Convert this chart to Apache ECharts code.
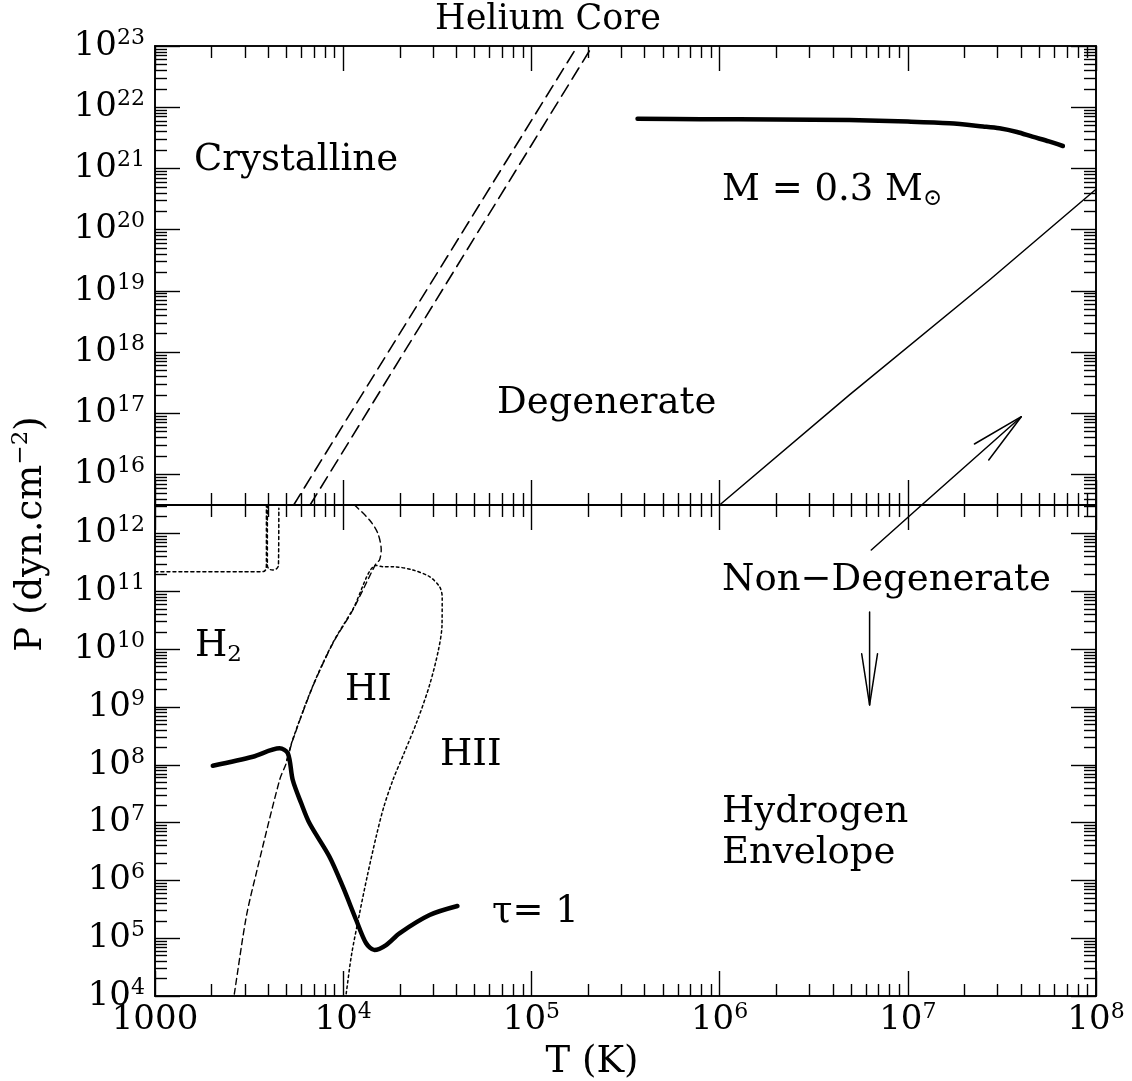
<!DOCTYPE html>
<html>
<head>
<meta charset="utf-8">
<script src="https://cdn.jsdelivr.net/npm/echarts@6/dist/echarts.min.js"></script>
<style>
  html, body { margin: 0; padding: 0; background: #fff; }
  #chart { width: 1132px; height: 1081px; }
</style>
</head>
<body>
<div id="chart"></div>
<script>
// All curve points are [log10 T (K), log10 P (dyn cm^-2)].

// Axis decades
const tDecades = [3, 4, 5, 6, 7, 8];
const coreDecades = [16, 17, 18, 19, 20, 21, 22, 23];
const envDecades = [4, 5, 6, 7, 8, 9, 10, 11, 12];
const tRange = [3, 8];
const coreRange = [15.5, 23];
const envRange = [4, 12.495];

// Helium core panel
const crystalA = [[3.737, 15.5], [5.245, 23]];
const crystalB = [[3.824, 15.5], [5.324, 23]];
const coreProfile = [[5.564, 21.81], [5.9, 21.805], [6.3, 21.8], [6.69, 21.79], [7.0, 21.765],
  [7.221, 21.737], [7.4, 21.685], [7.487, 21.655], [7.58, 21.595], [7.662, 21.518],
  [7.75, 21.44], [7.824, 21.366]];
const degeneracyLine = [[6.0, 15.5], [6.69, 17.3], [7.434, 19.176], [8.0, 20.66]];
const arrowUpShaft = [[7.074, 15.5], [7.603, 16.943]];
const arrowUpHead = [[7.354, 16.497], [7.603, 16.943], [7.43, 16.235]];

// Hydrogen envelope panel
const h2Edge = [[3.0, 11.34], [3.55, 11.34], [3.578, 11.345], [3.59, 11.39], [3.592, 11.5], [3.592, 12.495]];
const h2Loop = [[3.597, 12.495], [3.597, 11.45], [3.605, 11.39], [3.625, 11.37], [3.645, 11.39],
  [3.656, 11.45], [3.658, 12.44]];
const h2Boundary = [[4.06, 12.495], [4.14, 12.235], [4.184, 12.005], [4.202, 11.716], [4.193, 11.543],
  [4.175, 11.486], [4.051, 10.678], [3.945, 10.102], [3.838, 9.351], [3.732, 8.429], [3.697, 8.026],
  [3.662, 7.737], [3.538, 6.123], [3.485, 5.372], [3.422, 4.047], [3.42, 4.0]];
const hiiBoundary = [[3.70, 8.08], [3.732, 8.44], [3.838, 9.36], [3.945, 10.11], [4.051, 10.69],
  [4.175, 11.45], [4.21, 11.427], [4.264, 11.427], [4.37, 11.37], [4.459, 11.254], [4.512, 11.081],
  [4.526, 10.908], [4.525, 10.419], [4.506, 9.986], [4.459, 9.381], [4.395, 8.775], [4.326, 8.221],
  [4.264, 7.737], [4.214, 7.253], [4.175, 6.756], [4.129, 6.093], [4.087, 5.431], [4.044, 4.709],
  [4.016, 4.047], [4.012, 4.0]];
const tauOne = [[3.307, 7.984], [3.52, 8.14], [3.662, 8.285], [3.706, 8.199], [3.732, 7.737],
  [3.777, 7.334], [3.821, 6.988], [3.927, 6.41], [3.998, 5.891], [4.069, 5.315], [4.122, 4.912],
  [4.166, 4.796], [4.228, 4.882], [4.299, 5.085], [4.459, 5.401], [4.607, 5.557]];
const arrowUpTail = [[6.806, 11.716], [7.074, 12.495]];
const arrowDownShaft = [[6.797, 10.644], [6.797, 9.035]];
const arrowDownHead = [[6.755, 9.92], [6.797, 9.035], [6.839, 9.92]];

const FONT = "'DejaVu Serif', 'Liberation Serif', serif";
const INK = '#000';

function minorTicks(lo, hi) {
  const out = [];
  for (let n = Math.floor(lo); n < hi; n++) {
    for (let k = 2; k <= 9; k++) {
      const v = n + Math.log10(k);
      if (v > lo + 1e-6 && v < hi - 1e-6) out.push(v);
    }
  }
  return out;
}

const labelRich = {
  b: { fontFamily: FONT, fontSize: 34, color: INK, lineHeight: 38 },
  s: { fontFamily: FONT, fontSize: 22, color: INK, lineHeight: 23, verticalAlign: 'top' }
};

function makeAxis(gridIndex, range, position, ticks, len, labels) {
  const ax = {
    type: 'value', gridIndex, position, min: range[0], max: range[1], offset: 0,
    axisLine: { show: true, onZero: false, lineStyle: { color: INK, width: 1.6 } },
    axisTick: { show: true, inside: true, length: len, customValues: ticks,
      lineStyle: { color: INK, width: 1.4 } },
    axisLabel: { show: false },
    splitLine: { show: false }
  };
  if (labels) ax.axisLabel = labels;
  return ax;
}

function xLabels() {
  return { show: true, customValues: tDecades, margin: 5, rich: labelRich,
    formatter: v => v === 3 ? '{b|1000}' : '{b|10}{s|' + Math.round(v) + '}' };
}
function yLabels(vals) {
  return { show: true, customValues: vals, margin: 10, rich: labelRich,
    formatter: v => '{b|10}{s|' + Math.round(v) + '}' };
}

const tMinor = minorTicks(tRange[0], tRange[1]);
const xAxes = [];
const yAxes = [];
[[0, null], [1, xLabels()]].forEach(([g, lab]) => {
  xAxes.push(makeAxis(g, tRange, 'bottom', tDecades, 25, lab));
  xAxes.push(makeAxis(g, tRange, 'bottom', tMinor, 12));
  xAxes.push(makeAxis(g, tRange, 'top', tDecades, 25));
  xAxes.push(makeAxis(g, tRange, 'top', tMinor, 12));
});
[[0, coreRange, coreDecades], [1, envRange, envDecades]].forEach(([g, r, dec]) => {
  const minor = minorTicks(r[0], r[1]);
  yAxes.push(makeAxis(g, r, 'left', dec, 25, yLabels(dec)));
  yAxes.push(makeAxis(g, r, 'left', minor, 12));
  yAxes.push(makeAxis(g, r, 'right', dec, 25));
  yAxes.push(makeAxis(g, r, 'right', minor, 12));
});

function line(name, data, panel, width, dash, smooth) {
  return {
    name, type: 'line', data, xAxisIndex: panel * 4, yAxisIndex: panel * 4,
    symbol: 'none', smooth: smooth || false, silent: true, clip: true,
    lineStyle: { color: INK, width, type: dash || 'solid', cap: 'round', join: 'round' }
  };
}

const series = [
  line('crystalA', crystalA, 0, 1.6, [13, 7]),
  line('crystalB', crystalB, 0, 1.6, [13, 7]),
  line('coreProfile', coreProfile, 0, 4.5, null, 0.3),
  line('degeneracy', degeneracyLine, 0, 1.5),
  line('arrowUpShaft', arrowUpShaft, 0, 1.5),
  line('arrowUpHead', arrowUpHead, 0, 1.5),
  line('h2Edge', h2Edge, 1, 1.5, [3, 3], 0.3),
  line('h2Loop', h2Loop, 1, 1.5, [3, 3], 0.3),
  line('h2Boundary', h2Boundary, 1, 1.4, [6, 4], 0.3),
  line('hiiBoundary', hiiBoundary, 1, 1.5, [2.5, 3], 0.3),
  line('tauOne', tauOne, 1, 4.5, null, 0.3),
  line('arrowUpTail', arrowUpTail, 1, 1.5),
  line('arrowDownShaft', arrowDownShaft, 1, 1.5),
  line('arrowDownHead', arrowDownHead, 1, 1.5)
];

const SIZE = 37;
function txt(x, y, text, align, rich, extra) {
  return Object.assign({
    type: 'text', x, y, silent: true,
    style: { text, fill: INK, fontFamily: FONT, fontSize: SIZE,
      align: align || 'left', verticalAlign: 'middle', rich }
  }, extra || {});
}

const big = { fontFamily: FONT, fontSize: SIZE, color: INK, lineHeight: 42 };
const sub = { fontFamily: FONT, fontSize: 23, color: INK, lineHeight: 22, verticalAlign: 'bottom' };
const sup = { fontFamily: FONT, fontSize: 23, color: INK, lineHeight: 22, verticalAlign: 'top' };

const graphics = [
  txt(548, 20, 'Helium Core', 'center', null, { style: { text: 'Helium Core', fill: INK,
    fontFamily: FONT, fontSize: 35, align: 'center', verticalAlign: 'middle' } }),
  txt(194, 160, 'Crystalline'),
  txt(722, 190, '{a|M = 0.3 M}{b|⊙}', 'left', { a: big, b: sub }),
  txt(497, 403, 'Degenerate'),
  txt(722, 580, 'Non\u2212Degenerate'),
  txt(195, 646, '{a|H}{b|2}', 'left', { a: big, b: sub }),
  txt(345, 690, 'HI'),
  txt(440, 755, 'HII'),
  txt(722, 812, 'Hydrogen'),
  txt(722, 853, 'Envelope'),
  txt(492, 912, 'τ= 1'),
  txt(31, 534, '{a|P (dyn.cm}{b|\u22122}{a|)}', 'center', { a: big, b: sup }, { rotation: Math.PI / 2 }),
  txt(592, 1062, 'T (K)', 'center')
];

const chart = echarts.init(document.getElementById('chart'), null, { renderer: 'canvas' });
chart.setOption({
  backgroundColor: '#fff',
  animation: false,
  grid: [
    { left: 155, top: 46, width: 941, height: 459 },
    { left: 155, top: 505, width: 941, height: 491 }
  ],
  xAxis: xAxes,
  yAxis: yAxes,
  series,
  graphic: { elements: graphics }
});
</script>
</body>
</html>
